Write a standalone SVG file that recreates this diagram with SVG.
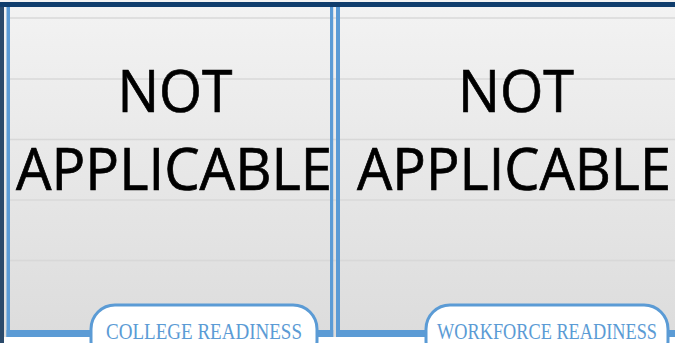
<svg xmlns="http://www.w3.org/2000/svg" width="675" height="343" viewBox="0 0 675 343">
  <defs>
    <linearGradient id="bg" x1="0" y1="0" x2="0" y2="1">
      <stop offset="0" stop-color="#f3f3f3"/>
      <stop offset="1" stop-color="#dcdcdc"/>
    </linearGradient>
  </defs>
  <style>
    .grid { stroke: #d8d8d8; stroke-width: 1.5; }
    .frame { fill: #5b9bd5; }
    .big { font-family: "Open Sans", "Noto Sans", sans-serif; font-size: 59px; fill: #000; stroke: #000; stroke-width: 0.7; text-anchor: middle; }
    .pill { fill: #ffffff; stroke: #5b9bd5; stroke-width: 3; }
    .lbl { font-family: "Liberation Serif", "DejaVu Serif", serif; font-size: 23px; fill: #5b9bd5; text-anchor: middle; }
  </style>
  <rect x="0" y="0" width="675" height="343" fill="#ffffff"/>
  <rect x="0" y="0" width="675" height="337" fill="url(#bg)"/>
  <g id="gridlines">
    <line class="grid" x1="10" y1="18" x2="675" y2="18"/>
    <line class="grid" x1="10" y1="79" x2="675" y2="79"/>
    <line class="grid" x1="10" y1="139.5" x2="675" y2="139.5"/>
    <line class="grid" x1="10" y1="200" x2="675" y2="200"/>
    <line class="grid" x1="10" y1="260.5" x2="675" y2="260.5"/>
  </g>
  <rect x="0" y="2" width="675" height="5" fill="#0f3d6c"/>
  <rect x="0" y="7" width="4" height="336" fill="#2b4a6b"/>
  <g id="panel-college">
    <rect class="frame" x="6.5" y="7" width="3.5" height="330"/>
    <rect class="frame" x="330" y="7" width="3.2" height="330"/>
    <rect class="frame" x="6.5" y="330" width="326.7" height="7"/>
    <text class="big" x="175" y="112" textLength="115" lengthAdjust="spacingAndGlyphs">NOT</text>
    <svg x="10" y="0" width="320" height="343" overflow="hidden">
      <text class="big" x="164" y="190" textLength="316" lengthAdjust="spacingAndGlyphs">APPLICABLE</text>
    </svg>
    <rect class="pill" x="91" y="305" width="226" height="60" rx="24"/>
    <text class="lbl" x="204" y="338.5" textLength="196" lengthAdjust="spacingAndGlyphs">COLLEGE READINESS</text>
  </g>
  <g id="panel-workforce">
    <rect class="frame" x="336" y="7" width="4" height="330"/>
    <rect class="frame" x="336" y="330" width="339" height="7"/>
    <text class="big" x="516" y="112" textLength="116" lengthAdjust="spacingAndGlyphs">NOT</text>
    <text class="big" x="514" y="190" textLength="314" lengthAdjust="spacingAndGlyphs">APPLICABLE</text>
    <rect class="pill" x="426" y="305" width="242" height="60" rx="24"/>
    <text class="lbl" x="547" y="338.5" textLength="220" lengthAdjust="spacingAndGlyphs">WORKFORCE READINESS</text>
  </g>
</svg>
